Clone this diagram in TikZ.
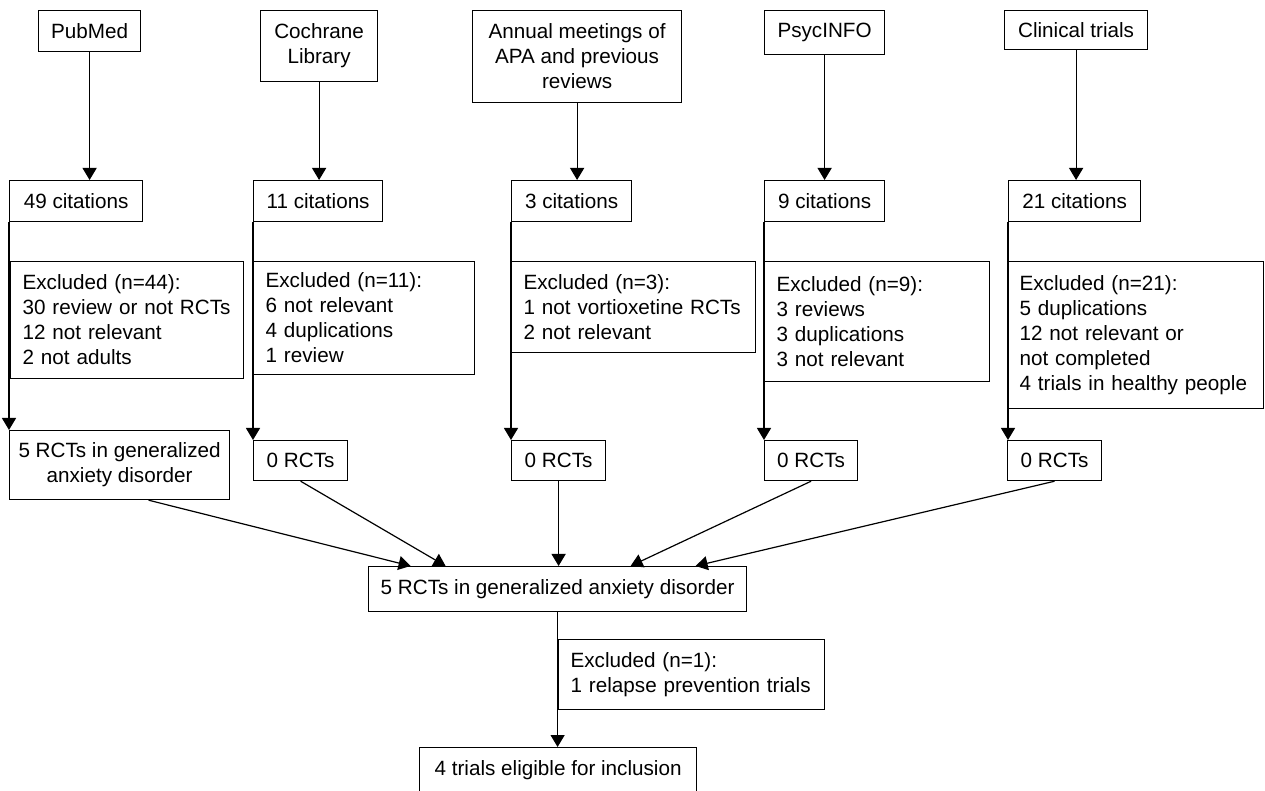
\documentclass[tikz,border=0pt]{standalone}
\usepackage{fontspec}
\setmainfont{Liberation Sans}
\usetikzlibrary{arrows.meta}
\newlength{\pxu}\setlength{\pxu}{0.75pt}
\tikzset{
  box/.style={draw, line width=0.9pt, anchor=north west, align=center, inner sep=0pt,
    font=\fontsize{15.5}{18.75}\selectfont},
  exbox/.style={box, align=left, inner xsep=9pt, text width=#1},
  flow/.style={line width=0.9pt, -{Triangle[width=10.5pt,length=9pt]}},
}
\begin{document}
\begin{tikzpicture}[x=0.75pt, y=-0.75pt]
  \useasboundingbox (0,0) rectangle (1265,791);
  % sources
  \node[box, minimum width=102\pxu, minimum height=41\pxu] (pub) at (38,10) {PubMed};
  \node[box, minimum width=117\pxu, minimum height=71\pxu] (coch) at (260,10) {Cochrane\\Library};
  \node[box, minimum width=209\pxu, minimum height=92\pxu] (apa) at (472,10) {Annual meetings of\\APA and previous\\reviews};
  \node[box, minimum width=120\pxu, minimum height=44\pxu] (psyc) at (764,10) {PsycINFO};
  \node[box, minimum width=143\pxu, minimum height=39\pxu] (clin) at (1004,10) {Clinical trials};
  % citations
  \node[box, minimum width=133\pxu, minimum height=41\pxu] (cpub) at (9,180) {49 citations};
  \node[box, minimum width=129\pxu, minimum height=41\pxu] (ccoch) at (253,180) {11 citations};
  \node[box, minimum width=120\pxu, minimum height=41\pxu] (capa) at (511,180) {3 citations};
  \node[box, minimum width=120\pxu, minimum height=41\pxu] (cpsyc) at (764,180) {9 citations};
  \node[box, minimum width=132\pxu, minimum height=41\pxu] (cclin) at (1008,180) {21 citations};
  % exclusions
  \node[exbox=156.75pt, minimum height=117\pxu] (xpub) at (10,261) {Excluded (n=44):\\30 review or not RCTs\\12 not relevant\\2 not adults};
  \node[exbox=147.75pt, minimum height=113\pxu] (xcoch) at (253,261) {Excluded (n=11):\\6 not relevant\\4 duplications\\1 review};
  \node[exbox=165pt, minimum height=91\pxu] (xapa) at (511,261) {Excluded (n=3):\\1 not vortioxetine RCTs\\2 not relevant};
  \node[exbox=150.75pt, minimum height=120\pxu] (xpsyc) at (764,261) {Excluded (n=9):\\3 reviews\\3 duplications\\3 not relevant};
  \node[exbox=174pt, minimum height=147\pxu] (xclin) at (1007,261) {Excluded (n=21):\\5 duplications\\12 not relevant or\\not completed\\4 trials in healthy people};
  % RCTs
  \node[box, minimum width=220\pxu, minimum height=69\pxu] (rpub) at (9,430) {5 RCTs in generalized\\anxiety disorder};
  \node[box, minimum width=94\pxu, minimum height=40\pxu] (rcoch) at (253,440) {0 RCTs};
  \node[box, minimum width=94\pxu, minimum height=40\pxu] (rapa) at (511,440) {0 RCTs};
  \node[box, minimum width=93\pxu, minimum height=40\pxu] (rpsyc) at (764,440) {0 RCTs};
  \node[box, minimum width=94\pxu, minimum height=40\pxu] (rclin) at (1007,440) {0 RCTs};
  % pooled
  \node[box, minimum width=378\pxu, minimum height=45\pxu] (gad) at (368,566) {5 RCTs in generalized anxiety disorder};
  \node[exbox=181.5pt, minimum height=70\pxu] (xgad) at (558,639) {Excluded (n=1):\\1 relapse prevention trials};
  \node[box, minimum width=277\pxu, minimum height=45\pxu] (fin) at (419,747) {4 trials eligible for inclusion};
  % arrows
  \draw[flow] (pub.south) -- (pub.south |- cpub.north);
  \draw[flow] (coch.south) -- (coch.south |- ccoch.north);
  \draw[flow] (apa.south) -- (apa.south |- capa.north);
  \draw[flow] (psyc.south) -- (psyc.south |- cpsyc.north);
  \draw[flow] (clin.south) -- (clin.south |- cclin.north);
  \draw[flow] (cpub.south west) -- (cpub.south west |- rpub.north);
  \draw[flow] (ccoch.south west) -- (ccoch.south west |- rcoch.north);
  \draw[flow] (capa.south west) -- (capa.south west |- rapa.north);
  \draw[flow] (cpsyc.south west) -- (cpsyc.south west |- rpsyc.north);
  \draw[flow] (cclin.south west) -- (cclin.south west |- rclin.north);
  \draw[flow] ([xshift=29\pxu]rpub.south) -- ([xshift=-147\pxu]gad.north);
  \draw[flow] (rcoch.south) -- ([xshift=-112\pxu]gad.north);
  \draw[flow] (rapa.south) -- (rapa.south |- gad.north);
  \draw[flow] (rpsyc.south) -- ([xshift=73\pxu]gad.north);
  \draw[flow] (rclin.south) -- ([xshift=138\pxu]gad.north);
  \draw[flow] (gad.south) -- (gad.south |- fin.north);
\end{tikzpicture}
\end{document}
